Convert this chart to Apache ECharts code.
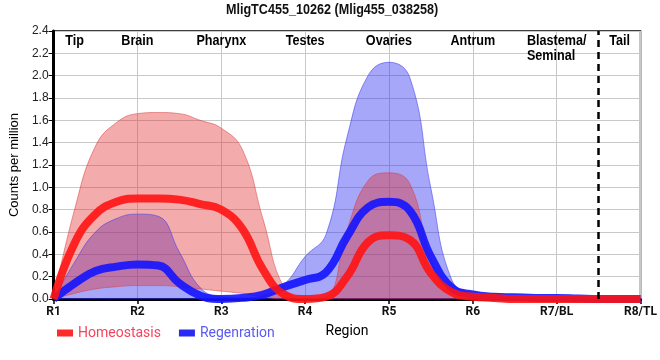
<!DOCTYPE html>
<html><head><meta charset="utf-8">
<script src="https://cdn.jsdelivr.net/npm/echarts@6/dist/echarts.min.js"></script>
<style>html,body{margin:0;padding:0;background:#fff}#c{width:660px;height:360px}</style>
</head><body><div id="c"></div>
<script>
// ---- data ----
const titleText = 'MligTC455_10262 (Mlig455_038258)';
const regions = ['R1','R2','R3','R4','R5','R6','R7/BL','R8/TL'];
const zones = ['Tip','Brain','Pharynx','Testes','Ovaries','Antrum','Blastema/\nSeminal','Tail'];
const xs = [0,0.25,0.5,0.75,1,1.25,1.5,1.75,2,2.25,2.5,2.75,3,3.25,3.5,3.75,4,4.25,4.5,4.75,5,5.25,5.5,5.75,6,6.25,6.5,6.75,7];
const homeoMean = [0,0.50,0.76,0.87,0.90,0.90,0.89,0.85,0.80,0.63,0.26,0.04,0.00,0.02,0.20,0.51,0.57,0.53,0.23,0.06,0.02,0.01,0,0,0,0,0,0,0];
const homeoHi   = [0,0.80,1.37,1.58,1.66,1.67,1.66,1.60,1.53,1.34,0.71,0.10,0.00,0.02,0.62,1.06,1.13,1.03,0.36,0.06,0.03,0.01,0,0,0,0,0,0,0];
const homeoLo   = [0,0.05,0.09,0.11,0.12,0.12,0.11,0.09,0.07,0.05,0.02,0,0,0,0,0,0,0,0,0,0,0,0,0,0,0,0,0,0];
const regenMean = [0,0.14,0.25,0.29,0.31,0.30,0.14,0.03,0.00,0.01,0.04,0.11,0.17,0.24,0.56,0.82,0.87,0.79,0.38,0.10,0.04,0.02,0.015,0.01,0.01,0.005,0,0,0];
const regenHi   = [0,0.33,0.60,0.72,0.76,0.74,0.42,0.10,0.02,0.01,0.03,0.13,0.38,0.58,1.45,2.00,2.12,1.98,0.99,0.17,0.05,0.03,0.02,0.015,0.01,0.005,0,0,0];
const regenLo   = [0,0,0,0,0,0,0,0,0,0,0,0,0,0,0,0,0,0,0,0,0,0,0,0,0,0,0,0,0];
const yTicks = {min:0, max:2.4, step:0.2};
const dividerAt = 6.5;

// ---- build ----
const cats = xs.map(String);
const isRegion = (i) => Number.isInteger(xs[i]);
const diff = (hi, lo) => hi.map((h,i)=>+(h-lo[i]).toFixed(4));
const SM = 0.45;
const boldFont = "'Liberation Sans',Arial,sans-serif";

function band(name, stack, lo, hi, fill, edge){
  return [
    {name:name+'_lo', type:'line', stack:stack, data:lo.slice(), smooth:SM, symbol:'none', silent:true,
     lineStyle:{width:1, color:edge}, z:2},
    {name:name+'_band', type:'line', stack:stack, data:diff(hi,lo), smooth:SM, symbol:'none', silent:true,
     lineStyle:{width:1, color:edge}, areaStyle:{color:fill, opacity:1}, z:2}
  ];
}

const chart = echarts.init(document.getElementById('c'), null, {renderer:'canvas'});
const series = [].concat(
  band('regen','b', regenLo, regenHi, 'rgba(45,45,240,0.42)', 'rgba(60,60,240,0.55)'),
  [{name:'Regenration', type:'line', data:regenMean, smooth:SM, symbol:'none', clip:false,
    itemStyle:{color:'#2a2af5'}, lineStyle:{width:8, color:'rgba(20,20,255,0.9)', cap:'butt'}, z:3}],
  band('homeo','r', homeoLo, homeoHi, 'rgba(225,45,45,0.40)', 'rgba(220,60,60,0.5)'),
  [{name:'Homeostasis', type:'line', data:homeoMean, smooth:SM, symbol:'none', clip:false,
    itemStyle:{color:'#ff2a2a'}, lineStyle:{width:8, color:'rgba(255,20,20,0.9)', cap:'butt'}, z:4,
    markLine:{silent:true, symbol:'none', label:{show:false},
      lineStyle:{color:'#000', width:2.5, type:[7,5]}, data:[{xAxis:String(dividerAt)}]}}]
);

chart.setOption({
  animation:false,
  grid:{left:50, right:10, top:31, bottom:61, show:true, borderColor:'#000', borderWidth:1.5},
  legend:{left:52, top:321, itemWidth:16, itemHeight:7, itemGap:18, icon:'rect',
    textStyle:{fontSize:14, fontFamily:'Roboto,sans-serif'},
    data:[{name:'Homeostasis', textStyle:{color:'#f5445c'}}, {name:'Regenration', textStyle:{color:'#5a5af5'}}]},
  xAxis:{type:'category', data:cats, boundaryGap:false,
    name:'Region', nameLocation:'middle', nameGap:25,
    nameTextStyle:{fontSize:14, color:'#000', fontFamily:'Roboto,sans-serif'},
    axisLine:{lineStyle:{color:'#000', width:3}},
    axisTick:{show:true, length:5, interval:(i)=>isRegion(i), lineStyle:{color:'#000', width:1.5}},
    axisLabel:{interval:(i)=>isRegion(i), formatter:(v,i)=>regions[xs[i]]||'', fontWeight:'bold', fontSize:12, color:'#111', margin:7, fontFamily:'Roboto,sans-serif'},
    splitLine:{show:true, interval:(i)=>isRegion(i), lineStyle:{color:'#c8c8c8', width:1}}},
  yAxis:{type:'value', min:yTicks.min, max:yTicks.max, interval:yTicks.step,
    name:'Counts per million', nameLocation:'middle', nameGap:30,
    nameTextStyle:{fontSize:13, color:'#000', fontFamily:'Liberation Sans,sans-serif'},
    axisLine:{show:true, lineStyle:{color:'#000', width:3}},
    axisTick:{show:true, length:5, lineStyle:{color:'#000', width:1}},
    axisLabel:{formatter:(v)=>v.toFixed(1), fontSize:12, color:'#222', margin:5, fontFamily:'Liberation Sans,sans-serif'},
    splitLine:{show:true, lineStyle:{color:'#c8c8c8', width:1}}},
  series:series
});

// title and zone labels drawn in a narrowed bold face
const NARROW = 0.9;
const ctx = document.createElement('canvas').getContext('2d');
const gfx = [];
const titleFont = 'bold 14px ' + boldFont;
ctx.font = titleFont;
const tw = ctx.measureText(titleText).width * NARROW;
gfx.push({type:'text', x:332 - tw/2, y:3, scaleX:NARROW, z:10,
  style:{text:titleText, font:titleFont, fill:'#111', textAlign:'left', textVerticalAlign:'top'}});

const zoneAt = [0.25,1,2,3,4,5,6,6.75];
const zoneFont = 'bold 14px ' + boldFont;
ctx.font = zoneFont;
zones.forEach((z,i)=>{
  const cx = chart.convertToPixel({xAxisIndex:0}, xs.indexOf(zoneAt[i]));
  const lines = z.split('\n');
  const w = Math.max.apply(null, lines.map(l=>ctx.measureText(l).width)) * NARROW;
  lines.forEach((l,j)=>{
    gfx.push({type:'text', x:cx - w/2, y:34 + j*15, scaleX:NARROW, z:10,
      style:{text:l, font:zoneFont, fill:'#000', textAlign:'left', textVerticalAlign:'top'}});
  });
});
chart.setOption({graphic:gfx});
</script></body></html>
